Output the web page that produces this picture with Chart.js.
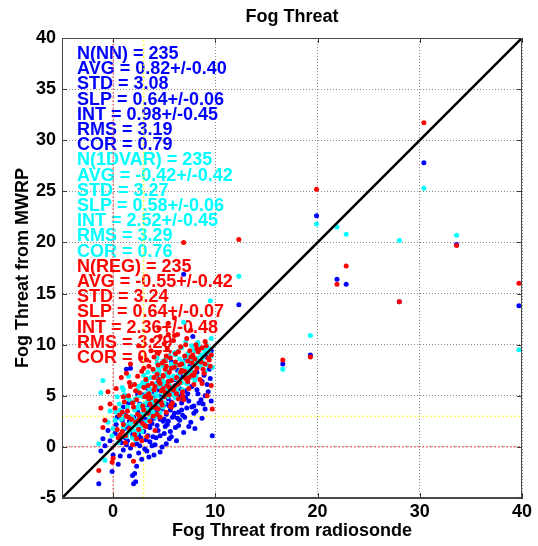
<!DOCTYPE html>
<html>
<head>
<meta charset="utf-8">
<title>Fog Threat</title>
<script src="https://cdn.jsdelivr.net/npm/chart.js@4/dist/chart.umd.min.js"></script>
<style>
  html, body { margin: 0; padding: 0; background: #ffffff; }
  canvas { display: block; }
</style>
</head>
<body>
<canvas id="fog" width="538" height="546"></canvas>
<script>
// Fog threat from the radiosonde (x) and the three MWRP retrievals (y), one entry per sounding
const radiosonde = [
  -1.4, -1.2, -1.0, -0.8, -0.5, -0.1, 0.0, 0.3, 0.5, 0.6, 0.8, 0.9, 1.0, 1.1, 1.2, 1.3, 1.4, 1.5, 1.6, 1.7,
  1.8, 1.9, 2.0, 2.0, 2.1, 2.1, 2.2, 2.3, 2.4, 2.5, 2.5, 2.6, 2.7, 2.8, 2.8, 2.9, 3.0, 3.0, 3.1, 3.2,
  3.3, 3.3, 3.4, 3.5, 3.5, 3.6, 3.7, 3.8, 3.8, 3.9, 4.0, 4.0, 4.1, 4.2, 4.3, 4.3, 4.4, 4.5, 4.5, 4.6,
  4.7, 4.8, 4.8, 4.9, 5.0, 5.0, 5.1, 5.2, 5.3, 5.3, 5.4, 5.5, 5.5, 5.6, 5.7, 5.8, 5.9, 6.0, 6.0, 6.1,
  6.2, 6.3, 6.4, 6.5, 6.5, 6.6, 6.7, 6.8, 6.9, 7.0, 7.1, 7.2, 7.3, 7.4, 7.5, 7.6, 7.7, 7.8, 7.9, 8.0,
  8.1, 8.2, 8.3, 8.5, 8.6, 8.7, 8.9, 9.0, 9.1, 9.2, 9.4, 9.5, 9.7, 9.6, 1.0, 1.5, 2.2, 2.4, 2.6, 2.9,
  3.1, 3.4, 3.6, 3.9, 4.1, 4.2, 4.4, 4.6, 4.7, 4.9, 5.1, 5.2, 5.4, 5.6, 5.7, 5.9, 6.1, 6.3, 6.6, 6.8,
  7.0, 7.3, 7.6, 7.9, 8.2, 8.8, 0.2, 0.7, 1.3, 1.9,
  1.2, 1.6, 2.3, 2.7, 3.2, 3.5, 3.7, 4.0, 4.3, 4.6, 4.9, 5.2, 5.4, 5.7, 6.0, 6.2, 6.4, 6.7, 6.9, 7.1,
  7.4, 7.7, 8.0, 8.4, 8.7, 9.0, 9.3, 9.6, 0.4, -0.3, 0.9, 1.7, 2.5, 3.0, 3.3, 3.8, 4.5, 5.0, 5.5, 6.0,
  30.4, 19.9, 21.9, 22.8, 28.0, 33.6, 39.7, 19.3, 16.6, 12.3
];
const fogNN = [
  -3.6, -0.4, 0.8, 0.1, 1.6, -2.4, -0.8, 2.2, -1.7, 1.0, 0.4, 2.6, -0.3, 1.8, 3.1, 7.6, 0.6, 2.0, -0.9, 7.7,
  1.4, -2.8, -3.6, 2.9, -2.6, 1.2, -3.4, 0.3, 3.5, 1.9, -0.6, 4.2, 0.9, 2.4, -1.2, 3.0, 1.5, 5.1, -0.2, 2.7,
  -0.4, 4.0, 1.1, 3.6, 2.0, 0.5, 4.6, 2.3, 3.3, 1.0, 5.4, 2.8, 0.2, 3.9, 2.1, 6.2, 1.6, 4.4, 3.0, -0.5,
  5.0, 0.0, 3.7, 2.5, 4.9, 1.3, 6.0, 3.2, 7.1, 2.2, 4.7, 0.8, 5.6, 3.6, 8.3, 2.9, 5.3, 4.1, 6.6, 1.9,
  4.8, 7.5, 3.4, 5.7, 2.6, 6.9, 4.3, 3.1, 16.9, 5.5, 8.6, 3.8, 6.3, 4.5, 7.9, 2.4, 5.9, 10.8, 4.0, 6.8,
  3.5, 7.3, 5.2, 8.1, 4.6, 6.4, 7.0, 5.0, 8.8, 6.1, 7.6, 6.7, 1.1, 9.4, 3.9, 4.3, 2.5, 5.2, 0.1, 3.8,
  2.2, 5.7, 1.9, 4.8, 3.4, 0.9, 6.7, 2.7, 3.8, 5.8, 2.0, 4.2, 6.4, 1.5, 4.4, 3.0, 6.0, 2.8, 5.1, 4.7,
  2.9, 5.2, 6.9, 3.3, 5.6, 4.2, 1.3, -0.9, 0.2, 1.0,
  0.9, 2.5, -1.9, 3.2, 0.7, -1.0, 2.6, -0.8, 3.5, 1.1, 4.0, 0.3, 2.5, 1.0, 3.3, 0.6, 2.1, 3.6, 1.4, 4.8,
  2.0, 3.9, 1.8, 4.3, 2.8, 3.7, 5.4, 4.5, 2.9, 0.6, 3.3, -0.1, 1.2, 2.5, 4.9, 0.1, 5.6, 2.7, 4.0, 5.0,
  27.8, 22.6, 16.4, 15.9, 14.2, 19.8, 13.8, 9.0, 8.1, 13.9
];
const fog1DVAR = [
  0.3, 5.3, 6.5, -1.3, 2.4, 1.1, 1.8, 3.4, 0.4, 4.2, 2.7, 3.3, 1.9, 5.1, 2.2, 4.8, 3.9, 1.4, 2.9, 6.2,
  3.0, 0.9, 1.6, 4.4, 2.5, 3.6, 0.7, 2.1, 5.5, 3.8, 2.8, 4.1, 6.0, 1.5, 3.2, 4.9, 3.3, 7.0, 2.4, 5.2,
  3.7, 6.4, 4.5, 2.6, 5.8, 3.1, 6.8, 4.0, 5.6, 3.5, 7.4, 4.6, 2.9, 6.1, 5.0, 8.2, 3.8, 5.9, 7.5, 3.4,
  4.7, 6.6, 5.3, 7.9, 6.3, 4.3, 8.5, 5.7, 7.2, 4.9, 6.9, 5.4, 8.9, 6.5, 7.8, 5.1, 10.4, 6.7, 7.7, 4.8,
  8.0, 9.3, 6.0, 7.3, 8.6, 6.4, 9.7, 5.6, 12.2, 7.6, 8.8, 6.2, 9.1, 7.0, 8.3, 6.8, 9.9, 8.1, 7.1, 9.4,
  6.9, 8.7, 10.2, 7.9, 9.0, 8.4, 9.6, 7.4, 10.1, 8.0, 9.2, 14.3, 7.8, 8.9, 5.6, 6.9, 4.7, 3.9, 5.0, 6.3,
  4.2, 7.3, 5.5, 4.4, 6.8, 5.2, 7.8, 4.1, 6.0, 8.4, 5.8, 7.1, 6.2, 5.9, 8.1, 6.9, 9.0, 5.3, 7.5, 8.3,
  7.2, 8.6, 7.4, 9.5, 8.2, 8.8, 2.6, 3.6, 1.0, 2.8,
  3.0, 4.6, 1.3, 2.0, 6.1, 4.4, 5.0, 3.2, 8.7, 6.2, 3.9, 7.6, 5.0, 6.6, 9.2, 5.7, 7.0, 6.3, 8.0, 10.3,
  7.7, 8.5, 6.5, 9.8, 8.1, 9.3, 9.7, 10.6, 4.9, 3.5, 5.8, 2.3, 5.9, 3.6, 6.7, 4.8, 7.1, 8.0, 6.4, 7.9,
  25.3, 21.8, 21.5, 20.8, 20.2, 20.7, 9.5, 10.9, 7.6, 16.7
];
const fogREG = [
  -2.3, 3.8, 1.9, 2.6, 5.4, -1.5, -1.1, 5.7, 0.9, 3.1, 6.8, 1.5, 2.2, 4.4, 0.4, 7.2, 3.5, 5.0, 1.8, 8.1,
  2.7, 0.2, -1.4, 3.9, 1.2, 6.1, 2.4, 4.6, 3.2, 9.9, 1.7, 5.3, 2.8, 7.4, 0.6, 4.0, 5.8, 3.6, 2.1, 6.6,
  1.0, 8.5, 3.3, 5.2, 7.9, 2.5, 4.8, 10.4, 6.2, 3.0, 5.6, 8.8, 1.6, 4.5, 7.1, 9.2, 3.7, 6.4, 11.6, 2.9,
  5.5, 4.1, 8.2, 6.9, 4.9, 10.1, 7.6, 3.4, 9.6, 6.0, 12.1, 5.1, 7.3, 8.7, 6.5, 4.3, 10.4, 7.8, 5.9, 9.1,
  6.8, 11.0, 4.7, 8.0, 6.3, 9.8, 7.5, 5.4, 20.0, 8.9, 6.7, 10.6, 8.4, 5.7, 9.4, 11.4, 7.0, 9.0, 6.1, 8.6,
  10.0, 7.7, 9.3, 6.6, 8.3, 9.7, 7.2, 8.1, 9.9, 5.0, 8.5, 7.9, 3.7, 9.0, 4.9, 2.9, 5.5, 6.9, 3.0, 2.3,
  4.9, 6.0, 4.2, 7.6, 5.9, 3.8, 8.0, 6.2, 4.4, 7.0, 5.3, 8.9, 6.4, 4.0, 7.7, 5.6, 8.3, 6.1, 7.3, 5.0,
  7.4, 6.4, 8.8, 7.0, 9.6, 7.6, 3.8, 1.2, 3.0, 4.3,
  1.1, 6.3, 0.8, 8.7, 2.0, 4.7, 9.4, 6.8, 3.2, 10.8, 5.7, 7.9, 11.0, 3.9, 12.6, 5.2, 9.3, 8.1, 4.6, 10.0,
  6.8, 8.2, 7.3, 9.5, 6.2, 10.3, 8.7, 6.0, 1.7, 4.2, 3.4, 5.9, 2.6, 7.7, 5.0, 3.9, 6.6, 8.4, 5.8, 10.9,
  31.7, 25.2, 15.9, 17.7, 14.2, 19.7, 16.0, 8.8, 8.5, 20.3
];

// Axis range, tick values and the threshold levels marked on the plot
const axisRange = [-5, 40];
const xTicks = [0, 10, 20, 30, 40];
const yTicks = [-5, 0, 5, 10, 15, 20, 25, 30, 35, 40];
const zeroLevel = 0;
const fogLevel = 3;

// Verification statistics for each retrieval
const statsNN = ['N(NN) = 235', 'AVG = 0.82+/-0.40', 'STD = 3.08', 'SLP = 0.64+/-0.06',
  'INT = 0.98+/-0.45', 'RMS = 3.19', 'COR = 0.79'];
const stats1DVAR = ['N(1DVAR) = 235', 'AVG = -0.42+/-0.42', 'STD = 3.27', 'SLP = 0.58+/-0.06',
  'INT = 2.52+/-0.45', 'RMS = 3.29', 'COR = 0.76'];
const statsREG = ['N(REG) = 235', 'AVG = -0.55+/-0.42', 'STD = 3.24', 'SLP = 0.64+/-0.07',
  'INT = 2.36+/-0.48', 'RMS = 3.29', 'COR = 0.77'];

const BLUE = '#0000ff', CYAN = '#00ffff', RED = '#ff0000';
const FONT = '"Liberation Sans", Arial, Helvetica, sans-serif';

const pairs = (ys) => radiosonde.map((x, i) => ({ x: x, y: ys[i] }));

function scatterSet(label, ys, color, order) {
  return {
    label: label, data: pairs(ys), order: order,
    backgroundColor: color, borderColor: color, borderWidth: 0,
    pointRadius: 2.5, pointHoverRadius: 2.5, clip: 4
  };
}
function lineSet(label, pts, color, width, dash, order) {
  return {
    label: label, data: pts, order: order, showLine: true,
    borderColor: color, borderWidth: width, borderDash: dash,
    pointRadius: 0, pointHoverRadius: 0, fill: false
  };
}

// Statistics block, drawn beneath the points
const statsText = {
  id: 'statsText',
  beforeDatasetsDraw(chart) {
    const ctx = chart.ctx;
    const blocks = [[statsNN, BLUE], [stats1DVAR, CYAN], [statsREG, RED]];
    ctx.save();
    ctx.font = 'bold 18px ' + FONT;
    ctx.textAlign = 'left';
    ctx.textBaseline = 'middle';
    let row = 0;
    const left = chart.chartArea.left + 15;
    const top = chart.chartArea.top + 16;
    blocks.forEach(([lines, color]) => {
      ctx.fillStyle = color;
      lines.forEach((t) => { ctx.fillText(t, left, top + row * 15.2); row++; });
    });
    ctx.restore();
  }
};

// Inward tick marks on all four sides of the box
const boxTicks = {
  id: 'boxTicks',
  afterDraw(chart) {
    const { ctx, chartArea: a, scales: { x, y } } = chart;
    const len = 5;
    ctx.save();
    ctx.strokeStyle = '#3a3a3a';
    ctx.lineWidth = 1;
    ctx.beginPath();
    x.ticks.forEach((t) => {
      const px = Math.round(x.getPixelForValue(t.value)) + 0.5;
      ctx.moveTo(px, a.bottom); ctx.lineTo(px, a.bottom - len);
      ctx.moveTo(px, a.top); ctx.lineTo(px, a.top + len);
    });
    y.ticks.forEach((t) => {
      const py = Math.round(y.getPixelForValue(t.value)) + 0.5;
      ctx.moveTo(a.left, py); ctx.lineTo(a.left + len, py);
      ctx.moveTo(a.right, py); ctx.lineTo(a.right - len, py);
    });
    ctx.stroke();
    ctx.strokeStyle = '#4a4a4a';
    ctx.strokeRect(a.left + 0.5, a.top + 0.5, a.right - a.left - 1, a.bottom - a.top - 1);
    ctx.restore();
  }
};

const tickFont = { family: FONT, size: 18, weight: 'bold' };

new Chart(document.getElementById('fog'), {
  type: 'scatter',
  data: {
    datasets: [
      lineSet('one-to-one', [{ x: axisRange[0], y: axisRange[0] }, { x: axisRange[1], y: axisRange[1] }], '#000000', 2.6, [], 0),
      scatterSet('REG', fogREG, RED, 1),
      scatterSet('1DVAR', fog1DVAR, CYAN, 2),
      scatterSet('NN', fogNN, BLUE, 3),
      lineSet('zero x', [{ x: zeroLevel, y: axisRange[0] }, { x: zeroLevel, y: axisRange[1] }], '#ff5050', 1, [2, 2], 4),
      lineSet('zero y', [{ x: axisRange[0], y: zeroLevel }, { x: axisRange[1], y: zeroLevel }], '#ff5050', 1, [2, 2], 4),
      lineSet('fog x', [{ x: fogLevel, y: axisRange[0] }, { x: fogLevel, y: axisRange[1] }], '#ffff00', 1, [2, 2], 4),
      lineSet('fog y', [{ x: axisRange[0], y: fogLevel }, { x: axisRange[1], y: fogLevel }], '#ffff00', 1, [2, 2], 4)
    ]
  },
  options: {
    responsive: false,
    animation: false,
    events: [],
    layout: { padding: { left: 0, right: 16, top: 0, bottom: 0 } },
    plugins: {
      legend: { display: false },
      tooltip: { enabled: false },
      title: {
        display: true, text: 'Fog Threat', color: '#000000', fullSize: false,
        font: { family: FONT, size: 18, weight: 'bold', lineHeight: 1.2 },
        padding: { top: 6, bottom: 10.4 }
      }
    },
    scales: {
      x: {
        type: 'linear', min: axisRange[0], max: axisRange[1],
        afterBuildTicks: (s) => { s.ticks = xTicks.map((v) => ({ value: v })); },
        afterFit: (s) => { s.height = 48; },
        ticks: { color: '#000000', font: tickFont, padding: 3, maxRotation: 0, autoSkip: false },
        grid: { color: '#8a8a8a', lineWidth: 1, drawTicks: false },
        border: { display: true, color: '#4a4a4a', width: 1, dash: [1, 2] },
        title: {
          display: true, text: 'Fog Threat from radiosonde', color: '#000000',
          font: { family: FONT, size: 18, weight: 'bold', lineHeight: 1.2 },
          padding: { top: 0, bottom: 4 }
        }
      },
      y: {
        type: 'linear', min: axisRange[0], max: axisRange[1],
        afterBuildTicks: (s) => { s.ticks = yTicks.map((v) => ({ value: v })); },
        afterFit: (s) => { s.width = 62; },
        ticks: { color: '#000000', font: tickFont, padding: 6, autoSkip: false },
        grid: { color: '#8a8a8a', lineWidth: 1, drawTicks: false },
        border: { display: true, color: '#4a4a4a', width: 1, dash: [1, 2] },
        title: {
          display: true, text: 'Fog Threat from MWRP', color: '#000000',
          font: { family: FONT, size: 18, weight: 'bold', lineHeight: 1.2 },
          padding: { top: 12, bottom: 0 }
        }
      }
    }
  },
  plugins: [statsText, boxTicks]
});
</script>
</body>
</html>
